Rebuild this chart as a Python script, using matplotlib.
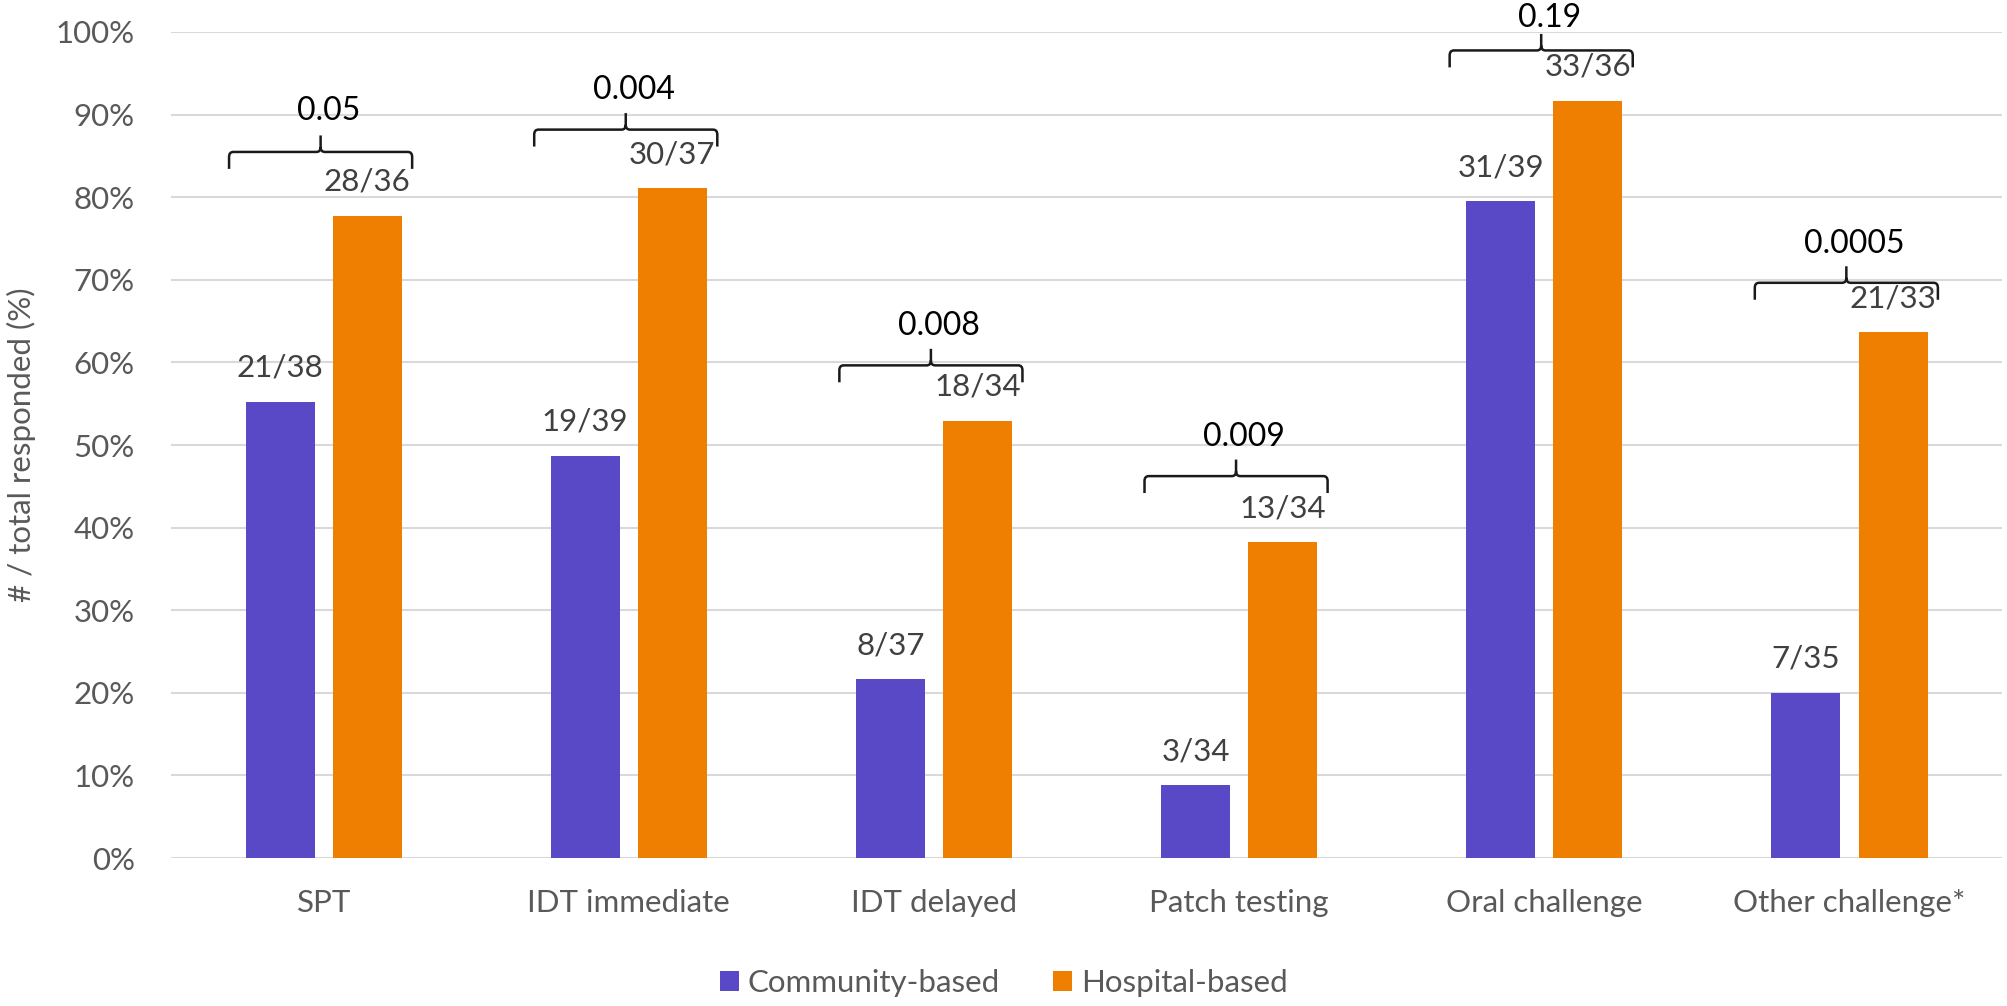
import matplotlib
matplotlib.use("Agg")
import matplotlib.pyplot as plt
from matplotlib.path import Path
from matplotlib.patches import PathPatch, Patch
import numpy as np

# ---------------- data ----------------
categories = ["SPT", "IDT immediate", "IDT delayed", "Patch testing",
              "Oral challenge", "Other challenge*"]
community_n = [21, 19, 8, 3, 31, 7]
community_total = [38, 39, 37, 34, 39, 35]
hospital_n = [28, 30, 18, 13, 33, 21]
hospital_total = [36, 37, 34, 34, 36, 33]
p_values = ["0.05", "0.004", "0.008", "0.009", "0.19", "0.0005"]
series_names = ["Community-based", "Hospital-based"]
y_ticks = [0, 10, 20, 30, 40, 50, 60, 70, 80, 90, 100]

community_pct = [100 * n / t for n, t in zip(community_n, community_total)]
hospital_pct = [100 * n / t for n, t in zip(hospital_n, hospital_total)]

# ---------------- style ----------------
FONT = ["Lato", "DejaVu Sans"]
plt.rcParams["font.family"] = FONT
BLUE = "#5949C7"
ORANGE = "#EE7F00"
TICK_COL = "#595959"
LABEL_COL = "#404040"
FS = 22.5

fig = plt.figure(figsize=(20.08, 10.06), dpi=100)
ax = fig.add_axes([0.0852, 0.1471, 0.9118, 0.8211])

x = np.arange(len(categories))
w = 0.226
off = 0.143
ax.bar(x - off, community_pct, w, color=BLUE, zorder=3)
ax.bar(x + off, hospital_pct, w, color=ORANGE, zorder=3)

ax.set_xlim(-0.5, len(categories) - 0.5)
ax.set_ylim(0, 100)
ax.set_yticks(y_ticks)
ax.set_yticklabels([f"{v}%" for v in y_ticks])
ax.set_xticks(x)
ax.set_xticklabels(categories)
ax.tick_params(axis="both", length=0, labelsize=FS, labelcolor=TICK_COL)
ax.tick_params(axis="y", pad=26)
ax.tick_params(axis="x", pad=22)
ax.yaxis.grid(True, color="#d9d9d9", linewidth=1.5, zorder=0)
ax.set_axisbelow(True)
for s in ax.spines.values():
    s.set_visible(False)
ax.set_ylabel("# / total responded (%)", fontsize=FS, color=TICK_COL, labelpad=14)

# data labels
for xi, v, n, t in zip(x - off, community_pct, community_n, community_total):
    ax.annotate(f"{n}/{t}", (xi, v), xytext=(0, 24.5), textcoords="offset points",
                ha="center", va="center", fontsize=FS, color=LABEL_COL, zorder=5)
for xi, v, n, t in zip(x + off, hospital_pct, hospital_n, hospital_total):
    ax.annotate(f"{n}/{t}", (xi, v), xytext=(0, 24.5), textcoords="offset points",
                ha="center", va="center", fontsize=FS, color=LABEL_COL, zorder=5)

# brackets with p-values (layout offsets)
lift = [7.7, 7.1, 6.7, 8.0, 6.1, 6.0]
text_rise = [29.5, 28.5, 28.5, 28.5, 23.0, 28.0]
for i, p in enumerate(p_values):
    c = x[i]
    yb = max(community_pct[i], hospital_pct[i]) + lift[i]
    x0, x1 = c - 0.31, c + 0.29
    xm = (x0 + x1) / 2
    h = 2.05      # end drop (data %)
    ht = 2.0      # middle tick up
    rx, ry = 0.014, 0.6
    verts = [
        (x0, yb - h), (x0, yb - ry), (x0, yb), (x0 + rx, yb),
        (xm - rx, yb), (xm, yb), (xm, yb + ry), (xm, yb + ht),
        (xm, yb + ry), (xm, yb), (xm + rx, yb),
        (x1 - rx, yb), (x1, yb), (x1, yb - ry), (x1, yb - h),
    ]
    codes = [
        Path.MOVETO, Path.LINETO, Path.CURVE3, Path.CURVE3,
        Path.LINETO, Path.CURVE3, Path.CURVE3, Path.LINETO,
        Path.MOVETO, Path.CURVE3, Path.CURVE3,
        Path.LINETO, Path.CURVE3, Path.CURVE3, Path.LINETO,
    ]
    ax.add_patch(PathPatch(Path(verts, codes), facecolor="none", edgecolor="#1a1a1a",
                           linewidth=1.8, zorder=6, clip_on=False))
    ax.annotate(p, (xm, yb), xytext=(6, text_rise[i]), textcoords="offset points",
                ha="center", va="center", fontsize=FS + 0.5, color="black", zorder=6,
                annotation_clip=False)

# legend
handles = [Patch(facecolor=BLUE), Patch(facecolor=ORANGE)]
fig.legend(handles, series_names, loc="center", bbox_to_anchor=(0.5, 0.0229),
           ncol=2, frameon=False, fontsize=FS, labelcolor=TICK_COL,
           handlelength=0.6, handleheight=0.6, handletextpad=0.3,
           columnspacing=1.7)

fig.savefig("out.png", dpi=100)
